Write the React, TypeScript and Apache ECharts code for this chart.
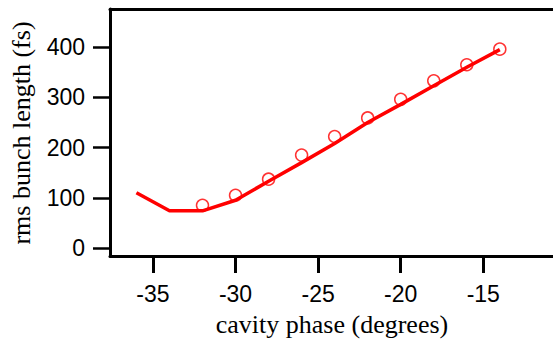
import React, { useEffect, useRef } from "react";
import * as echarts from "echarts";

const lineX = [-36, -34, -32, -30, -28, -26, -24, -22, -20, -18, -16, -14];
const lineY = [110, 74, 74, 95, 133, 170, 208, 250, 286, 323, 360, 395];
const dotX = [-32, -30, -28, -26, -24, -22, -20, -18, -16, -14];
const dotY = [85, 105, 137, 185, 222, 259, 296, 333, 365, 396];
const xTicks = [-35, -30, -25, -20, -15];
const yTicks = [0, 100, 200, 300, 400];

export default function App() {
  const ref = useRef<HTMLDivElement>(null);
  useEffect(() => {
    if (!ref.current) return;
    const chart = echarts.init(ref.current, undefined, { renderer: "svg" });
    const sans = "'Liberation Sans', Arial, sans-serif";
    const serif = "'Liberation Serif', 'Times New Roman', serif";
    const X_MIN = -37.6;
    const X_MAX = -10.78;
    const border = { show: true, onZero: false, lineStyle: { color: "#000", width: 3 } };
    chart.setOption({
      animation: false,
      backgroundColor: "#fff",
      grid: {
        left: 110,
        top: 9,
        right: 0,
        bottom: 86,
        show: false,
      },
      xAxis: [
        {
          type: "value",
          position: "bottom",
          min: X_MIN,
          max: X_MAX,
          axisLine: border,
          splitLine: { show: false },
          axisTick: {
            show: true,
            length: 17,
            inside: false,
            customValues: xTicks,
            lineStyle: { color: "#000", width: 3 },
          },
          axisLabel: {
            customValues: xTicks,
            margin: 26,
            fontSize: 23,
            fontFamily: sans,
            color: "#000",
          },
        },
        {
          type: "value",
          position: "top",
          min: X_MIN,
          max: X_MAX,
          axisLine: border,
          splitLine: { show: false },
          axisTick: { show: false },
          axisLabel: { show: false },
        },
      ],
      yAxis: {
        type: "value",
        min: -16,
        max: 476,
        axisLine: border,
        splitLine: { show: false },
        axisTick: {
          show: true,
          length: 17,
          customValues: yTicks,
          lineStyle: { color: "#000", width: 2.5 },
        },
        axisLabel: {
          customValues: yTicks,
          margin: 25,
          fontSize: 23,
          fontFamily: sans,
          color: "#000",
        },
      },
      graphic: [
        {
          type: "text",
          x: 332,
          y: 324,
          style: {
            text: "cavity phase (degrees)",
            font: `26px ${serif}`,
            fill: "#000",
            align: "center",
            verticalAlign: "middle",
          },
        },
        {
          type: "text",
          x: 21,
          y: 133,
          rotation: Math.PI / 2,
          style: {
            text: "rms bunch length (fs)",
            font: `26px ${serif}`,
            fill: "#000",
            align: "center",
            verticalAlign: "middle",
          },
        },
      ],
      series: [
        {
          type: "line",
          xAxisIndex: 0,
          data: lineX.map((x, i) => [x, lineY[i]]),
          showSymbol: false,
          symbol: "none",
          lineStyle: { color: "#ff0000", width: 3.5 },
          z: 2,
        },
        {
          type: "scatter",
          xAxisIndex: 0,
          data: dotX.map((x, i) => [x, dotY[i]]),
          symbol: "circle",
          symbolSize: 12,
          itemStyle: {
            color: "transparent",
            borderColor: "#ff0000",
            borderWidth: 1.5,
          },
          z: 3,
        },
      ],
    });
    return () => chart.dispose();
  }, []);
  return (
    <div
      ref={ref}
      style={{ width: 553, height: 342, position: "absolute", left: 0, top: 0 }}
    />
  );
}
